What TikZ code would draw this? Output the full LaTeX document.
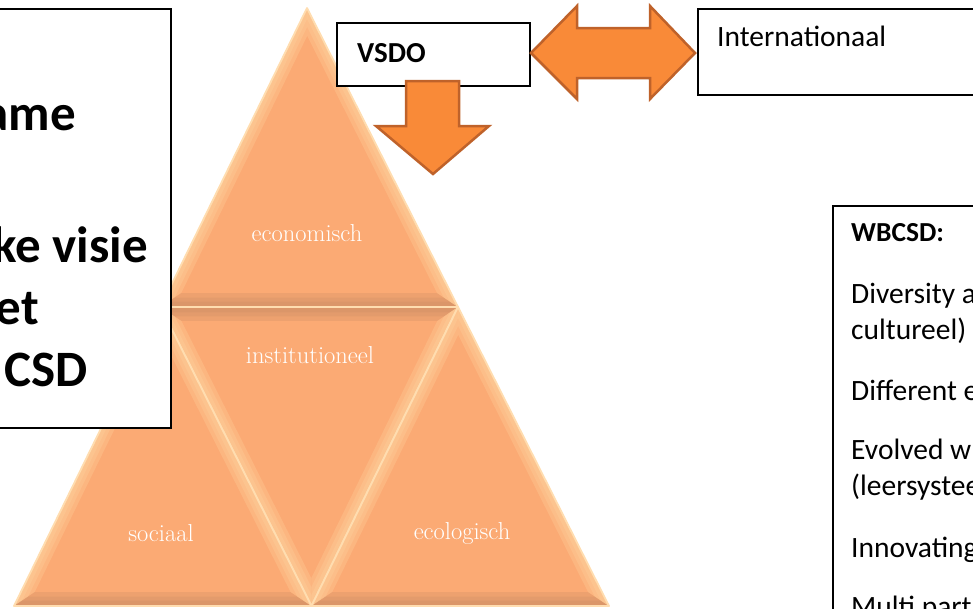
\documentclass[tikz,border=0pt]{standalone}
\usepackage{fontspec}
\newfontfamily\calfont{Carlito}
\usetikzlibrary{calc}
\definecolor{trifill}{HTML}{FBAA74}
\definecolor{trilight}{HTML}{FFD7A2}
\definecolor{tridark}{HTML}{C98C64}
\definecolor{trigap}{HTML}{FFDDB0}
\definecolor{arrfill}{HTML}{F98A38}
\definecolor{arredge}{HTML}{BF622A}
\newcommand\bevband[4]{% center, P, Q, colour
  \foreach \s in {0.86,0.905,0.945}{
    \fill[#4, fill opacity=0.27] (#2) -- (#3) -- ($(#1)!\s!(#3)$) -- ($(#1)!\s!(#2)$) -- cycle;
  }}
\newcommand\bevtri[7]{% name, A, B, C, colAB, colBC, colCA
  \coordinate (#1o) at ($0.3333*(#2)+0.3333*(#3)+0.3334*(#4)$);
  \fill[trifill] (#2) -- (#3) -- (#4) -- cycle;
  \bevband{#1o}{#2}{#3}{#5}
  \bevband{#1o}{#3}{#4}{#6}
  \bevband{#1o}{#4}{#2}{#7}
  \draw[trigap, line width=1.8pt, line join=round] (#2) -- (#3) -- (#4) -- cycle;
}
\begin{document}
\begin{tikzpicture}[x=1pt,y=-1pt,
  box/.style={draw=black, line width=2pt, fill=white},
  trilabel/.style={text=white, inner sep=0pt, font=\fontsize{24.5}{29}\selectfont},
  bigtxt/.style={inner sep=0pt, anchor=base east, font=\calfont\bfseries\fontsize{51}{61}\selectfont},
  smalltxt/.style={inner sep=0pt, anchor=base west, font=\calfont\fontsize{29.5}{35}\selectfont},
  boldsmall/.style={smalltxt, font=\calfont\bfseries\fontsize{29}{35}\selectfont},
  arrowshape/.style={fill=arrfill, draw=arredge, line width=2.5pt, line join=miter}]
\useasboundingbox (0,0) rectangle (973,608);
\clip (0,0) rectangle (973,608);
% pyramid corner points
\coordinate (T) at (307,8);
\coordinate (L) at (14,606);
\coordinate (R) at (609,606);
\coordinate (ML) at (160.5,307);
\coordinate (MR) at (458,307);
\coordinate (MB) at (311.5,606);
% triangles
\bevtri{top}{T}{ML}{MR}{trilight}{tridark}{trilight}
\bevtri{mid}{ML}{MR}{MB}{tridark}{trilight}{trilight}
\bevtri{lft}{ML}{L}{MB}{trilight}{tridark}{trilight}
\bevtri{rgt}{MR}{MB}{R}{trilight}{tridark}{trilight}
\node[trilabel] (eco) at (307,233) {economisch};
\node[trilabel] (inst) at (310,355) {institutioneel};
\node[trilabel] (soc) at (161,533) {sociaal};
\node[trilabel] (ecol) at (462,533) {ecologisch};
% left text box
\node[box, minimum width=187pt, minimum height=419pt, inner sep=0pt, anchor=north east] (leftbox) at (172,8) {};
\node[bigtxt] (lt1) at (76,130) {ame};
\node[bigtxt] (lt2) at (148,262) {ke visie};
\node[bigtxt] (lt3) at (39,324) {et};
\node[bigtxt] (lt4) at (88,386) {CSD};
% VSDO box
\node[box, minimum width=193pt, minimum height=63pt, inner sep=0pt, anchor=north west] (vsdo) at (336,22) {};
\node[boldsmall] (vsdot) at (357,62) {VSDO};
% Internationaal box
\node[box, line width=1.8pt, minimum width=290pt, minimum height=86pt, inner sep=0pt, anchor=north west] (intl) at (697,8) {};
\node[smalltxt] (intlt) at (717,46) {Internationaal};
% WBCSD box
\node[box, minimum width=160pt, minimum height=420pt, inner sep=0pt, anchor=north west] (wb) at (832,205) {};
\node[boldsmall, font=\calfont\bfseries\fontsize{27.5}{33}\selectfont] (w0) at (851,241) {WBCSD:};
\node[smalltxt] (w1) at (851,303) {Diversity a};
\node[smalltxt] (w2) at (851,339) {cultureel)};
\node[smalltxt] (w3) at (851,400) {Different e};
\node[smalltxt] (w4) at (851,459) {Evolved w};
\node[smalltxt] (w5) at (851,495) {(leersystee};
\node[smalltxt] (w6) at (851,557) {Innovating};
\node[smalltxt] (w7) at (851,616) {Multi part};
% double arrow between VSDO and Internationaal
\draw[arrowshape] (531,53) -- (577,6) -- (577,28) -- (650,28) -- (650,6) -- (695,53)
  -- (650,99) -- (650,78) -- (577,78) -- (577,99) -- cycle;
% down arrow from VSDO
\draw[arrowshape] (406,81) -- (459,81) -- (459,126) -- (489,126) -- (433,174)
  -- (376,126) -- (406,126) -- cycle;
\end{tikzpicture}
\end{document}
